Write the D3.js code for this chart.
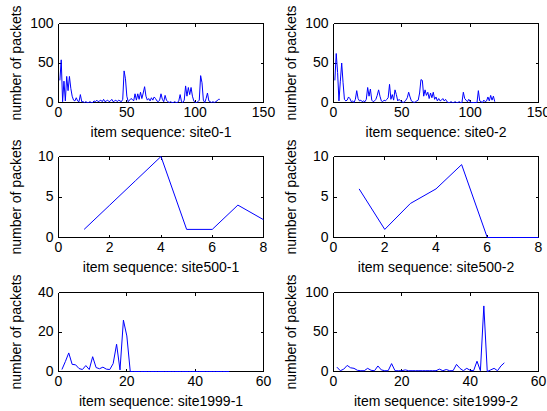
<!DOCTYPE html>
<html>
<head>
<meta charset="utf-8">
<script src="https://cdn.jsdelivr.net/npm/d3@7"></script>
<style>
  html, body { margin: 0; padding: 0; background: #fff; }
  svg { display: block; }
</style>
</head>
<body>
<script>
// packets per item (x = 1..n)
const site0_1 = [
  28, 54, 1, 27, 2, 33, 15, 33, 18, 8,
  3, 2, 6, 2, 1, 10, 1, 1, 0, 1,
  0, 0, 1, 0, 0, 2, 1, 3, 1, 2,
  3, 1, 4, 1, 2, 3, 1, 2, 4, 1,
  2, 3, 1, 3, 2, 1, 4, 40, 30, 8,
  1, 3, 5, 4, 2, 11, 3, 11, 4, 13,
  5, 12, 20, 8, 3, 5, 2, 6, 3, 7,
  5, 2, 1, 3, 11, 4, 1, 9, 3, 1,
  0, 1, 0, 0, 1, 0, 0, 2, 10, 1,
  0, 3, 21, 8, 19, 10, 19, 8, 2, 0,
  0, 1, 3, 34, 25, 3, 0, 5, 12, 2,
  1, 0, 1, 0, 1, 2, 4, 4
];
const site0_2 = [
  28, 62, 38, 2, 27, 50, 25, 4, 2, 3,
  7, 5, 1, 2, 0, 4, 15, 5, 2, 3,
  1, 2, 1, 4, 19, 8, 17, 3, 1, 2,
  4, 9, 16, 8, 2, 1, 3, 2, 4, 6,
  23, 4, 10, 3, 16, 10, 2, 4, 2, 1,
  0, 1, 3, 6, 13, 7, 2, 1, 0, 1,
  2, 3, 12, 29, 28, 8, 16, 9, 13, 5,
  12, 6, 13, 4, 7, 2, 5, 2, 3, 5,
  2, 4, 1, 0, 0, 1, 0, 0, 1, 0,
  0, 1, 0, 0, 13, 5, 3, 1, 4, 1,
  0, 0, 0, 0, 0, 15, 2, 1, 0, 3,
  1, 2, 7, 2, 9, 3, 8, 1
];
const site500_1 = [1, 4, 7, 10, 1, 1, 4, 2.2];
const site500_2 = [6, 1, 4.2, 6, 9, 0, 0, 0];
const site1999_1 = [
  1, 5, 9.4, 3.6, 3.4, 1.5, 1, 3, 1, 7.5,
  2, 1.4, 2.2, 1.2, 1, 4, 13.8, 0.8, 26, 18,
  0, 0, 0, 0, 0, 0, 0, 0, 0, 0,
  0, 0, 0, 0, 0, 0, 0, 0, 0, 0,
  0, 0, 0, 0, 0, 0, 0, 0, 0, 0
];
const site1999_2 = [
  5.5, 1, 3, 7.7, 4.7, 4, 1.5, 1, 1, 4,
  1.5, 1, 7, 2, 1, 1, 10, 1, 1, 1,
  2, 1, 1, 1, 1, 1, 1, 1, 1, 1,
  3, 1, 2.5, 1, 1, 9, 4, 1, 4, 1.5,
  1, 13, 1, 83, 0, 2, 4, 1, 7, 11
];

const xTicks150 = [0, 50, 100, 150];
const xTicks8 = [0, 2, 4, 6, 8];
const xTicks60 = [0, 20, 40, 60];
const yTicks100 = [0, 50, 100];
const yTicks10 = [0, 5, 10];
const yTicks40 = [0, 20, 40];

const names = ["site0-1", "site0-2", "site500-1", "site500-2", "site1999-1", "site1999-2"];

const panels = [
  { name: names[0], values: site0_1, xt: xTicks150, yt: yTicks100, row: 0, col: 0 },
  { name: names[1], values: site0_2, xt: xTicks150, yt: yTicks100, row: 0, col: 1 },
  { name: names[2], values: site500_1, xt: xTicks8, yt: yTicks10, row: 1, col: 0 },
  { name: names[3], values: site500_2, xt: xTicks8, yt: yTicks10, row: 1, col: 1 },
  { name: names[4], values: site1999_1, xt: xTicks60, yt: yTicks40, row: 2, col: 0 },
  { name: names[5], values: site1999_2, xt: xTicks60, yt: yTicks100, row: 2, col: 1 },
];

const width = 547, height = 411;
const cols = [{ x0: 58.5, x1: 263.5 }, { x0: 333.5, x1: 538.5 }];
const rows = [{ y0: 23.5, y1: 102.5 }, { y0: 156.5, y1: 237.5 }, { y0: 292.5, y1: 371.5 }];
const font = "'Liberation Sans', Arial, Helvetica, sans-serif";
const tick = 3;

const svg = d3.select("body").append("svg")
  .attr("width", width).attr("height", height)
  .style("background", "#fff");

function styleAxis(g) {
  g.attr("font-family", font).attr("font-size", 14);
  g.selectAll("path, line").attr("stroke", "#000").attr("shape-rendering", "crispEdges");
  g.selectAll("text").attr("fill", "#000");
}

panels.forEach((p) => {
  const c = cols[p.col], r = rows[p.row];
  const x = d3.scaleLinear().domain(d3.extent(p.xt)).range([c.x0, c.x1]);
  const y = d3.scaleLinear().domain(d3.extent(p.yt)).range([r.y1, r.y0]);

  const g = svg.append("g");

  // box with inward ticks on all four sides
  g.append("g").attr("transform", `translate(0,${r.y1})`)
    .call(d3.axisBottom(x).tickValues(p.xt).tickFormat(d3.format("d"))
      .tickSizeInner(-tick).tickSizeOuter(0).tickPadding(5).offset(0))
    .call(styleAxis);
  g.append("g").attr("transform", `translate(0,${r.y0})`)
    .call(d3.axisTop(x).tickValues(p.xt).tickFormat("")
      .tickSizeInner(-tick).tickSizeOuter(0).offset(0))
    .call(styleAxis);
  g.append("g").attr("transform", `translate(${c.x0},0)`)
    .call(d3.axisLeft(y).tickValues(p.yt).tickFormat(d3.format("d"))
      .tickSizeInner(-tick).tickSizeOuter(0).tickPadding(5).offset(0))
    .call(styleAxis);
  g.append("g").attr("transform", `translate(${c.x1},0)`)
    .call(d3.axisRight(y).tickValues(p.yt).tickFormat("")
      .tickSizeInner(-tick).tickSizeOuter(0).offset(0))
    .call(styleAxis);

  // data line, drawn over the axes box
  const line = d3.line().x((d, i) => x(i + 1)).y((d) => y(d));
  g.append("path")
    .datum(p.values)
    .attr("d", line)
    .attr("fill", "none")
    .attr("stroke", "#0000ff")
    .attr("stroke-width", 1);

  // labels
  g.append("text")
    .attr("x", (c.x0 + c.x1) / 2).attr("y", r.y1 + 34)
    .attr("text-anchor", "middle")
    .attr("font-family", font).attr("font-size", 14)
    .text(`item sequence: ${p.name}`);

  const lx = c.x0 - 37.5, ly = (r.y0 + r.y1) / 2;
  g.append("text")
    .attr("transform", `translate(${lx},${ly}) rotate(-90)`)
    .attr("text-anchor", "middle")
    .attr("font-family", font).attr("font-size", 14)
    .text("number of packets");
});
</script>
</body>
</html>
